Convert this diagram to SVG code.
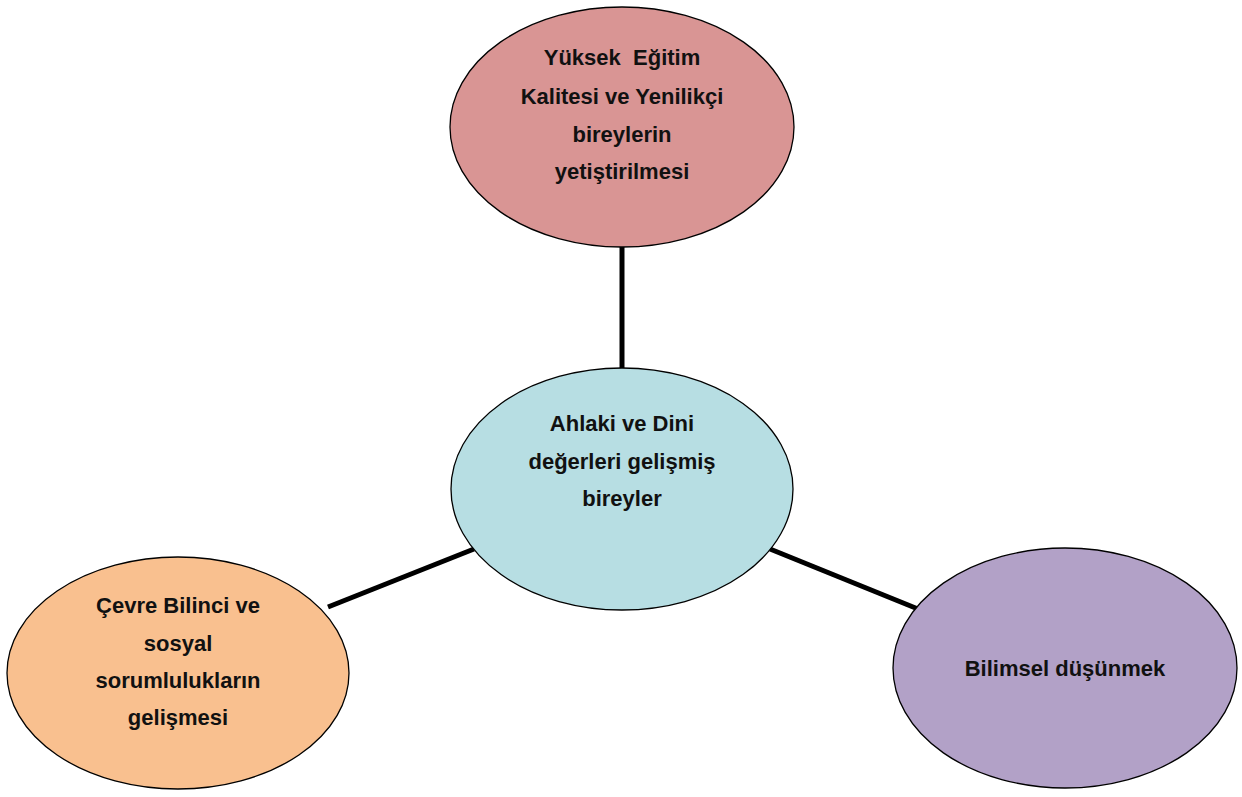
<svg xmlns="http://www.w3.org/2000/svg" width="1242" height="797" viewBox="0 0 1242 797">
<style>
.n{stroke:#000;stroke-width:1.3}
.t{font-family:"Liberation Sans",Arial,sans-serif;font-weight:bold;font-size:22px;fill:#111;text-anchor:middle}
.c{stroke:#000;stroke-width:5;fill:none}
</style>
<rect width="1242" height="797" fill="#fff"/>
<g id="connectors">
<line class="c" x1="622" y1="247" x2="622" y2="368"/>
<line class="c" x1="328" y1="607" x2="474" y2="549"/>
<line class="c" x1="770" y1="549" x2="918" y2="609"/>
</g>
<g id="top">
<ellipse class="n" cx="622" cy="127" rx="172" ry="120" fill="#D99594"/>
<text class="t" x="622" y="65" xml:space="preserve">Yüksek  Eğitim</text>
<text class="t" x="622" y="104">Kalitesi ve Yenilikçi</text>
<text class="t" x="622" y="142">bireylerin</text>
<text class="t" x="622" y="179">yetiştirilmesi</text>
</g>
<g id="center">
<ellipse class="n" cx="622" cy="489" rx="171" ry="121" fill="#B7DEE3"/>
<text class="t" x="622" y="431">Ahlaki ve Dini</text>
<text class="t" x="622" y="469">değerleri gelişmiş</text>
<text class="t" x="622" y="506">bireyler</text>
</g>
<g id="left">
<ellipse class="n" cx="178" cy="673" rx="171" ry="116" fill="#F9C08F"/>
<text class="t" x="178" y="613">Çevre Bilinci ve</text>
<text class="t" x="178" y="651">sosyal</text>
<text class="t" x="178" y="688">sorumlulukların</text>
<text class="t" x="178" y="725">gelişmesi</text>
</g>
<g id="right">
<ellipse class="n" cx="1065" cy="668" rx="172" ry="120" fill="#B2A1C7"/>
<text class="t" x="1065" y="676">Bilimsel düşünmek</text>
</g>
</svg>
